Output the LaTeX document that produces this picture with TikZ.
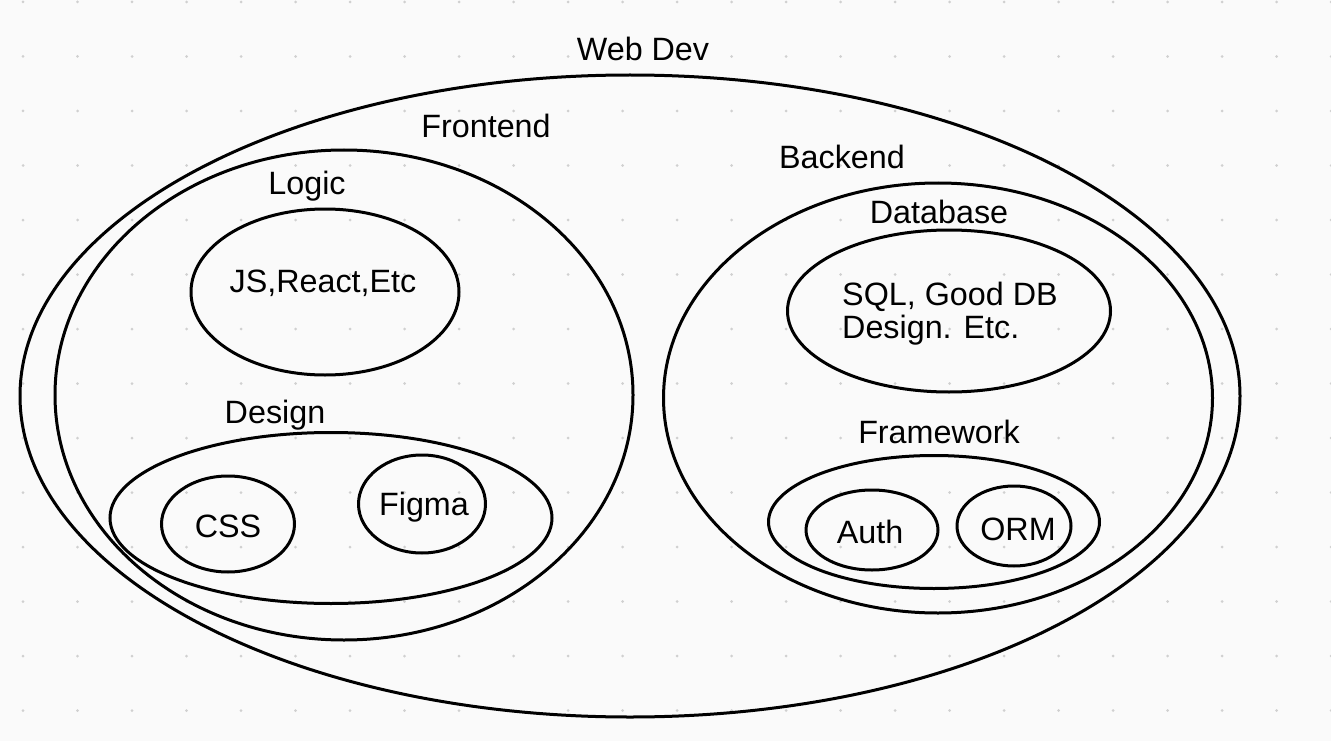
\documentclass[tikz,border=0pt]{standalone}
\usepackage{fontspec}
\setmainfont{Liberation Sans}
\usetikzlibrary{shapes.geometric}
\definecolor{bgc}{RGB}{250,250,250}
\definecolor{dotc}{RGB}{208,208,208}
\begin{document}
\begin{tikzpicture}[x=1pt,y=-1pt,
  ell/.style={draw=black, line width=3pt, ellipse, inner sep=0pt, outer sep=0pt},
  lbl/.style={inner sep=0pt, anchor=base, font=\fontsize{32.3}{33}\selectfont}]
\fill[bgc] (0,0) rectangle (1331,741);
\useasboundingbox (0,0) rectangle (1331,741);
\foreach \i in {0,...,24}{
  \foreach \j in {0,...,13}{
    \fill[dotc] ({23+54.5*\i},{2+54.5*\j}) circle (1.5);
  }
}
% ellipses
\node[ell, minimum width=1220, minimum height=642] (webdev) at (630,396) {};
\node[ell, minimum width=578, minimum height=490] (frontend) at (344,395) {};
\node[ell, minimum width=268, minimum height=166] (logic) at (325,292) {};
\node[ell, minimum width=442, minimum height=171] (design) at (331,518) {};
\node[ell, minimum width=133, minimum height=96] (css) at (228,524) {};
\node[ell, minimum width=127, minimum height=98] (figma) at (422,504) {};
\node[ell, minimum width=549, minimum height=430] (backend) at (938,398) {};
\node[ell, minimum width=323, minimum height=162] (database) at (949,311) {};
\node[ell, minimum width=331, minimum height=133] (framework) at (934,522) {};
\node[ell, minimum width=132, minimum height=80] (auth) at (872,530) {};
\node[ell, minimum width=114, minimum height=80] (orm) at (1014,526) {};
% labels
\node[lbl] (twebdev) at (643,61) {Web Dev};
\node[lbl] (tfrontend) at (486,138) {Frontend};
\node[lbl] (tbackend) at (842,168) {Backend};
\node[lbl] (tlogic) at (307,194) {Logic};
\node[lbl] (tjs) at (323,292) {JS,React,Etc};
\node[lbl] (tdesign) at (275,423) {Design};
\node[lbl] (tcss) at (228,537) {CSS};
\node[lbl] (tfigma) at (424,515) {Figma};
\node[lbl] (tdatabase) at (939,223) {Database};
\node[lbl, align=left, anchor=west] (tsql) at (842,314) {SQL, Good DB\\Design. Etc.};
\node[lbl] (tframework) at (939,443) {Framework};
\node[lbl] (tauth) at (870,543) {Auth};
\node[lbl] (torm) at (1018,540) {ORM};
\end{tikzpicture}
\end{document}
